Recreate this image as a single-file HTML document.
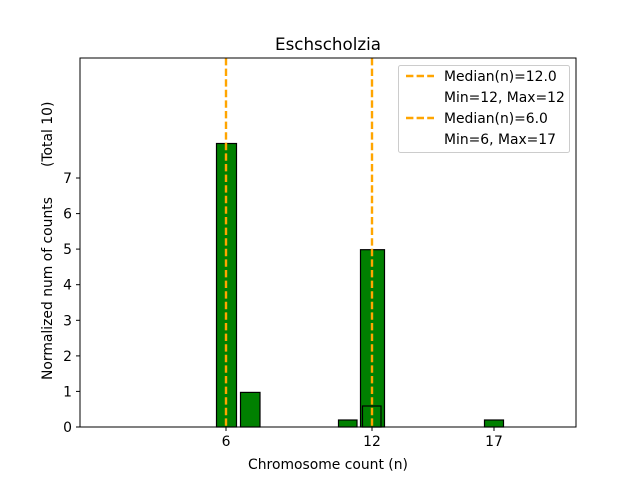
<!DOCTYPE html><html><head><style>body{margin:0;background:#fff}</style></head><body>
<svg width="640" height="480" xmlns="http://www.w3.org/2000/svg" font-family="DejaVu Sans, Liberation Sans, sans-serif" font-size="13.9">
<rect width="640" height="480" fill="#fff"/>
<g fill="green" stroke="#000" stroke-width="1.2">
<rect x="216.5" y="143.5" width="20" height="283.5"/>
<rect x="240.5" y="392.4" width="19.5" height="34.6"/>
<rect x="338.5" y="420" width="18.5" height="7"/>
<rect x="360.5" y="249.7" width="24" height="177.3"/>
<rect x="362.5" y="406" width="18.5" height="21"/>
<rect x="484.5" y="420" width="19" height="7"/>
</g>
<line x1="80" y1="427" x2="456" y2="427" stroke="#888" stroke-width="1"/>
<g stroke="#FFA500" stroke-width="2.4" stroke-dasharray="7.4,3.2">
<line x1="226" y1="58" x2="226" y2="427"/>
<line x1="372" y1="58" x2="372" y2="427"/>
</g>
<rect x="80" y="58" width="496" height="369" fill="none" stroke="#000" stroke-width="1"/>
<g stroke="#000">
<line x1="226" y1="427" x2="226" y2="431"/><line x1="372" y1="427" x2="372" y2="431"/><line x1="494" y1="427" x2="494" y2="431"/>
<line x1="80" y1="427" x2="76" y2="427"/><line x1="80" y1="391.4" x2="76" y2="391.4"/><line x1="80" y1="355.9" x2="76" y2="355.9"/><line x1="80" y1="320.3" x2="76" y2="320.3"/><line x1="80" y1="284.7" x2="76" y2="284.7"/><line x1="80" y1="249.1" x2="76" y2="249.1"/><line x1="80" y1="213.6" x2="76" y2="213.6"/><line x1="80" y1="178" x2="76" y2="178"/>
</g>
<g text-anchor="middle" fill="#000">
<text x="226" y="446">6</text><text x="372" y="446">12</text><text x="494" y="446">17</text>
<text x="328" y="469">Chromosome count (n)</text>
<text x="328" y="50" font-size="16.7">Eschscholzia</text>
</g>
<g text-anchor="end" fill="#000">
<text x="72" y="432">0</text><text x="72" y="396.4">1</text><text x="72" y="360.9">2</text><text x="72" y="325.3">3</text><text x="72" y="289.7">4</text><text x="72" y="254.1">5</text><text x="72" y="218.6">6</text><text x="72" y="183">7</text>
</g>
<g transform="translate(52,0) rotate(-90)" fill="#000">
<text x="-380" y="0">Normalized num of counts</text>
<text x="-167" y="0">(Total 10)</text>
</g>
<rect x="398.5" y="65.5" width="171" height="87" fill="#fff" stroke="#ccc" rx="2"/>
<g stroke="#FFA500" stroke-width="2.4" stroke-dasharray="7.4,3.2"><line x1="406" y1="76" x2="434" y2="76"/><line x1="406" y1="118" x2="434" y2="118"/></g>
<g fill="#000">
<text x="444" y="81">Median(n)=12.0</text><text x="444" y="102">Min=12, Max=12</text>
<text x="444" y="123">Median(n)=6.0</text><text x="444" y="144">Min=6, Max=17</text>
</g>
</svg></body></html>
